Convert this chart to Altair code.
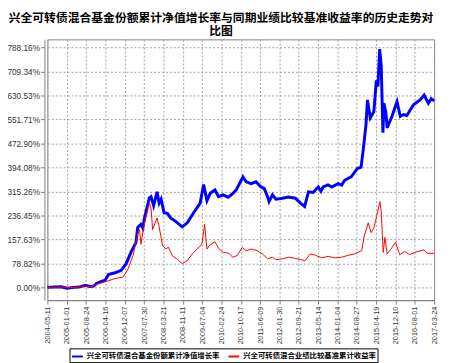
import altair as alt
import pandas as pd

title_lines = ["兴全可转债混合基金份额累计净值增长率与同期业绩比较基准收益率的历史走势对", "比图"]
series_names = ["兴全可转债混合基金份额累计净值增长率", "兴全可转债混合业绩比较基准累计收益率"]
series_colors = ["#0000ff", "#ff0000"]

fund_dates = [
    "2004-05-11", "2004-08-01", "2004-10-25", "2005-01-05", "2005-03-29", "2005-05-29",
    "2005-08-17", "2005-10-08", "2005-11-25", "2005-12-29", "2006-02-14", "2006-04-14",
    "2006-05-23", "2006-08-11", "2006-10-26", "2006-12-23", "2007-02-22", "2007-04-23",
    "2007-05-14", "2007-06-20", "2007-07-14", "2007-08-08", "2007-10-02", "2007-10-23",
    "2007-11-23", "2008-01-04", "2008-01-29", "2008-02-22", "2008-03-29", "2008-05-08",
    "2008-06-17", "2008-08-17", "2008-11-05", "2009-01-05", "2009-03-24", "2009-06-11",
    "2009-07-23", "2009-09-01", "2009-10-11", "2009-12-08", "2010-01-20", "2010-03-18",
    "2010-05-17", "2010-07-14", "2010-08-23", "2010-10-23", "2010-11-13", "2010-12-22",
    "2011-02-20", "2011-04-20", "2011-06-19", "2011-07-29", "2011-09-08", "2011-09-26",
    "2011-11-07", "2011-12-17", "2012-03-05", "2012-05-20", "2012-08-11", "2012-10-11",
    "2012-12-01", "2013-01-17", "2013-03-14", "2013-05-17", "2013-06-17", "2013-07-14",
    "2013-09-11", "2013-10-28", "2014-01-11", "2014-02-25", "2014-04-01", "2014-06-20",
    "2014-09-01", "2014-10-18", "2014-11-17", "2014-12-17", "2015-01-04", "2015-02-07",
    "2015-03-23", "2015-04-22", "2015-05-11", "2015-06-01", "2015-06-20", "2015-07-11",
    "2015-07-23", "2015-08-16", "2015-08-31", "2015-10-29", "2015-12-29", "2016-02-07",
    "2016-03-17", "2016-04-26", "2016-07-16", "2016-10-04", "2016-11-22", "2017-01-13",
    "2017-02-17", "2017-03-24",
]
fund_values = [
    0, 1.5, 2, -3, 0, 1,
    7, 3, 4, 13, 18, 24,
    42, 48, 56, 77, 116, 148,
    197, 207, 195, 233, 294, 298,
    268, 314, 277, 290, 245, 243,
    228, 217, 199, 212, 245, 277,
    338, 285, 309, 320, 298, 304,
    296, 309, 320, 352, 363, 347,
    341, 347, 330, 325, 298, 282,
    304, 290, 293, 297, 293, 277,
    266, 314, 312, 330, 316, 330,
    337, 330, 341, 336, 352, 363,
    390, 395, 460, 535, 616, 557,
    578, 680, 660, 783, 729, 508,
    605, 575, 524, 562, 610, 562,
    568, 565, 600, 616, 632, 605,
    620, 613,
]

bench_dates = [
    "2004-05-11", "2004-10-25", "2005-03-29", "2005-08-17", "2005-10-20", "2006-01-23",
    "2006-04-14", "2006-08-11", "2006-11-19", "2007-01-17", "2007-03-17", "2007-05-14",
    "2007-06-05", "2007-06-23", "2007-07-26", "2007-09-13", "2007-10-02", "2007-10-23",
    "2007-11-11", "2008-01-04", "2008-01-29", "2008-03-11", "2008-04-20", "2008-05-20",
    "2008-07-08", "2008-09-07", "2008-11-05", "2009-01-05", "2009-03-06", "2009-05-05",
    "2009-07-02", "2009-08-04", "2009-09-01", "2009-10-11", "2009-12-08", "2010-01-20",
    "2010-03-18", "2010-05-17", "2010-07-14", "2010-09-04", "2010-11-04", "2010-12-22",
    "2011-02-20", "2011-05-02", "2011-07-08", "2011-09-08", "2011-11-07", "2011-12-17",
    "2012-03-05", "2012-05-23", "2012-08-11", "2012-12-08", "2013-02-07", "2013-04-08",
    "2013-06-26", "2013-09-14", "2013-12-02", "2014-02-22", "2014-05-11", "2014-07-29",
    "2014-10-26", "2014-11-26", "2015-01-14", "2015-02-17", "2015-03-23", "2015-04-25",
    "2015-06-05", "2015-06-20", "2015-07-14", "2015-08-04", "2015-08-31", "2015-10-14",
    "2015-12-11", "2016-01-31", "2016-03-29", "2016-05-29", "2016-08-25", "2016-11-22",
    "2017-01-01", "2017-03-24",
]
bench_values = [
    0, 1, -1, 4, 2, 12,
    18, 29, 34, 61, 104, 175,
    190, 142, 200, 255, 277, 260,
    190, 228, 200, 137, 126, 132,
    104, 92, 78, 88, 110, 126,
    142, 207, 126, 140, 150, 128,
    115, 113, 99, 105, 131, 120,
    126, 121, 110, 94, 99, 91,
    94, 99, 95, 88, 110, 106,
    97, 102, 97, 99, 105, 110,
    121, 169, 212, 180, 195, 233,
    282, 250, 115, 164, 110, 125,
    148, 107, 118, 108, 117, 123,
    112, 112,
]

x_ticks = [
    "2004-05-11", "2005-01-01", "2005-08-24", "2006-04-16", "2006-12-07", "2007-07-30",
    "2008-03-21", "2008-11-11", "2009-07-04", "2010-02-24", "2010-10-17", "2011-06-09",
    "2012-01-30", "2012-09-21", "2013-05-14", "2014-01-04", "2014-08-27", "2015-04-19",
    "2015-12-10", "2016-08-01", "2017-03-24",
]
y_ticks = [0, 78.816, 157.632, 236.448, 315.264, 394.08, 472.896, 551.712, 630.528, 709.344, 788.16]


def to_dt(s):
    y, m, d = (int(p) for p in s.split("-"))
    return alt.DateTime(year=y, month=m, date=d, utc=True)


df = pd.concat([
    pd.DataFrame({"date": fund_dates, "value": fund_values, "series": series_names[0]}),
    pd.DataFrame({"date": bench_dates, "value": bench_values, "series": series_names[1]}),
])

x_enc = alt.X(
    "date:T",
    scale=alt.Scale(type="utc", domain=[to_dt(x_ticks[0]), to_dt(x_ticks[-1])], nice=False),
    axis=alt.Axis(
        values=[to_dt(t) for t in x_ticks],
        labelExpr="utcFormat(datum.value, '%Y-%m-%d')",
        labelAngle=-90, labelAlign="right", labelBaseline="middle",
        labelFontSize=7.5, labelColor="#333333", labelFont="Liberation Sans",
        labelPadding=2, tickSize=4, tickColor="#808080",
        domainColor="#808080", grid=True, gridColor="#a0a0a0",
        gridDash=[2, 2], title=None, labelOverlap=False, labelFlush=False,
    ),
)
y_enc = alt.Y(
    "value:Q",
    scale=alt.Scale(domain=[-42, 815], nice=False, zero=False),
    axis=alt.Axis(
        values=y_ticks,
        labelExpr="format(datum.value, '.2f') + '%'",
        labelFontSize=8.4, labelColor="#333333", labelFont="Liberation Sans",
        labelPadding=1, tickSize=4, tickColor="#808080", offset=3,
        domainColor="#808080", grid=True, gridColor="#a0a0a0",
        gridDash=[2, 2], title=None, labelOverlap=False, labelFlush=False,
    ),
)
color_enc = alt.Color(
    "series:N",
    scale=alt.Scale(domain=series_names, range=series_colors),
    legend=alt.Legend(
        title=None, orient="none", legendX=22.5, legendY=314, direction="horizontal",
        symbolType="stroke", symbolSize=121, symbolStrokeWidth=2,
        labelFont="Noto Sans CJK SC", labelFontWeight="bold", labelFontSize=7.5,
        labelColor="#000000", labelOffset=3, columnPadding=5, padding=1.5,
        strokeColor="#000000", labelLimit=300,
    ),
)

base = alt.Chart(df).encode(x=x_enc, y=y_enc, color=color_enc)
fund_line = base.transform_filter(alt.datum.series == series_names[0]).mark_line(strokeWidth=3)
bench_line = base.transform_filter(alt.datum.series == series_names[1]).mark_line(strokeWidth=1)

chart = alt.layer(fund_line, bench_line).properties(
    width=393,
    height=265,
    title=alt.Title(
        text=title_lines, fontSize=12, font="Noto Sans CJK SC", fontWeight="bold",
        color="#000000", anchor="middle", frame="group", dx=-20, offset=1, lineHeight=14,
    ),
    padding={"left": 40, "top": 29, "right": 8, "bottom": 61},
    autosize=alt.AutoSizeParams(type="none"),
).configure_view(stroke="#808080", strokeWidth=1)

chart.save("out.html", embed_options={"renderer": "svg", "actions": False})
